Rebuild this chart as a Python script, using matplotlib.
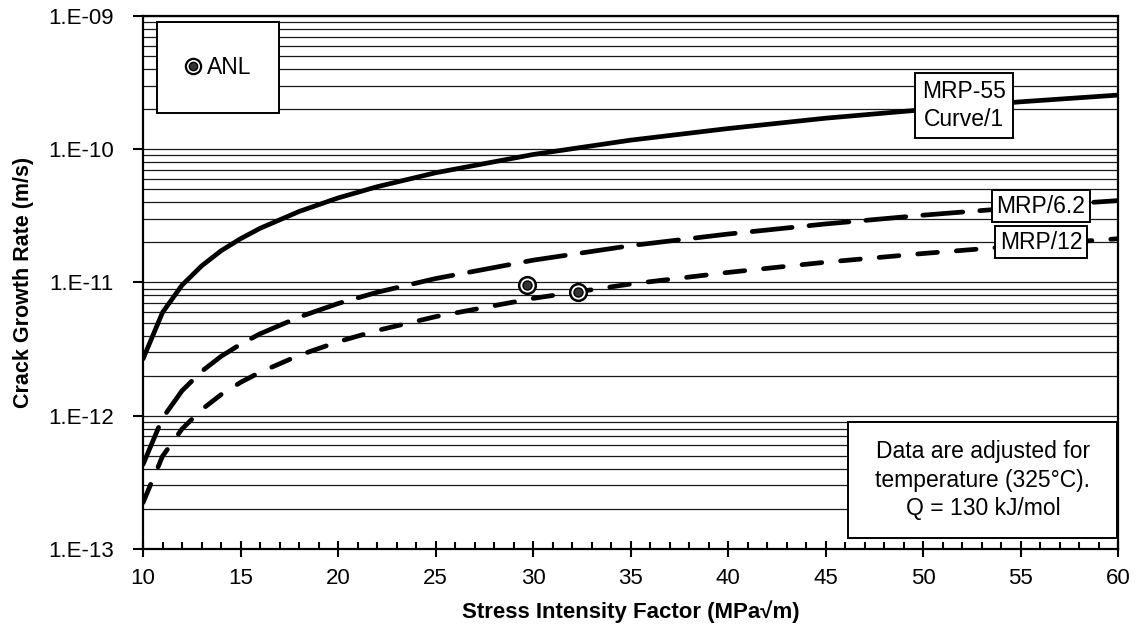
import matplotlib as mpl
mpl.use('Agg')
import matplotlib.pyplot as plt
from matplotlib.lines import Line2D
from matplotlib.patches import Rectangle
from matplotlib.legend_handler import HandlerTuple
from matplotlib.ticker import MultipleLocator, FuncFormatter, LogLocator
import numpy as np

plt.rcParams['font.family'] = ['Liberation Sans', 'DejaVu Sans']

# stress intensity factor (MPa sqrt m)
k_vals = [10, 11, 12, 13, 14, 15, 16, 18, 20, 22, 25, 30, 35, 40, 45, 50, 55, 60]
# crack growth rates (m/s)
mrp55 = [2.67e-12, 5.96e-12, 9.55e-12, 1.33e-11, 1.73e-11, 2.13e-11, 2.55e-11,
         3.41e-11, 4.31e-11, 5.23e-11, 6.66e-11, 9.13e-11, 1.17e-10, 1.43e-10,
         1.71e-10, 1.98e-10, 2.27e-10, 2.55e-10]
mrp_62 = [4.31e-13, 9.6e-13, 1.54e-12, 2.15e-12, 2.79e-12, 3.44e-12, 4.12e-12,
          5.50e-12, 6.95e-12, 8.44e-12, 1.07e-11, 1.47e-11, 1.89e-11, 2.31e-11,
          2.75e-11, 3.20e-11, 3.66e-11, 4.12e-11]
mrp_12 = [2.23e-13, 4.97e-13, 7.96e-13, 1.11e-12, 1.44e-12, 1.78e-12, 2.12e-12,
          2.84e-12, 3.59e-12, 4.36e-12, 5.54e-12, 7.60e-12, 9.74e-12, 1.19e-11,
          1.42e-11, 1.65e-11, 1.89e-11, 2.13e-11]

anl_k = [29.7, 32.3]
anl_rate = [9.6e-12, 8.5e-12]

fig = plt.figure(figsize=(11.37, 6.4), dpi=100)
ax = fig.add_axes([0.1258, 0.1422, 0.8575, 0.8328])

ax.set_yscale('log')
ax.set_xlim(10, 60)
ax.set_ylim(1e-13, 1e-9)

# horizontal grid at every minor/major decade step
ax.yaxis.set_major_locator(LogLocator(base=10, numticks=10))
ax.yaxis.set_minor_locator(LogLocator(base=10, subs=np.arange(2, 10), numticks=20))
ax.yaxis.set_major_formatter(FuncFormatter(lambda v, p: "1.E%03d" % int(round(np.log10(v)))))
ax.yaxis.set_minor_formatter(FuncFormatter(lambda v, p: ""))
ax.grid(True, which='both', axis='y', color='#1a1a1a', lw=0.9)
ax.set_axisbelow(True)

ax.xaxis.set_major_locator(MultipleLocator(5))
ax.xaxis.set_minor_locator(MultipleLocator(1))
ax.tick_params(axis='x', which='major', direction='inout', length=12, width=1.5,
               labelsize=16, pad=8)
ax.tick_params(axis='x', which='minor', direction='in', length=5, width=1.5)
ax.tick_params(axis='y', which='major', direction='out', length=7, width=1.5,
               labelsize=16, pad=14)
ax.tick_params(axis='y', which='minor', length=0)

for s in ax.spines.values():
    s.set_linewidth(1.6)

lw = 3.4
ax.plot(k_vals, mrp55, color='k', lw=lw, solid_capstyle='round', zorder=3)
ax.plot(k_vals, mrp_62, color='k', lw=lw, ls=(0, (8.5, 3.6)),
        dash_capstyle='round', zorder=3)
ax.plot(k_vals, mrp_12, color='k', lw=lw, ls=(0, (4.2, 4.0)),
        dash_capstyle='round', zorder=3)

ax.plot(anl_k, anl_rate, ls='none', marker='o', ms=12, mfc='white', mec='k',
        mew=1.8, zorder=4)
ax.plot(anl_k, anl_rate, ls='none', marker='o', ms=6.5, mfc='#333333', mec='k',
        mew=1, zorder=5)

box = dict(boxstyle='square,pad=0.3', fc='white', ec='k', lw=1.4)
ax.text(52.1, 2.14e-10, "MRP-55\nCurve/1", ha='center', va='center', fontsize=16.5,
        linespacing=1.3, bbox=box, zorder=6)
ax.text(56.05, 3.73e-11, "MRP/6.2", ha='center', va='center', fontsize=16.5,
        bbox=dict(boxstyle='square,pad=0.2', fc='white', ec='k', lw=1.4), zorder=6)
ax.text(56.05, 2.0e-11, "MRP/12", ha='center', va='center', fontsize=16.5,
        bbox=dict(boxstyle='square,pad=0.2', fc='white', ec='k', lw=1.4), zorder=6)

# legend frame
ax.add_patch(Rectangle((0.0144, 0.818), 0.125, 0.1707, transform=ax.transAxes,
                       fc='white', ec='k', lw=1.4, zorder=6))
outer = Line2D([], [], ls='none', marker='o', ms=11, mfc='white', mec='k', mew=1.6)
inner = Line2D([], [], ls='none', marker='o', ms=6, mfc='#333333', mec='k', mew=1)
ax.legend([(outer, inner)], ["ANL"], handler_map={tuple: HandlerTuple(ndivide=1)},
          loc='center', bbox_to_anchor=(0.0769, 0.9035), frameon=False,
          fontsize=16.5, handlelength=0.7, handletextpad=0.25).set_zorder(7)

# note box
ax.add_patch(Rectangle((0.723, 0.0206), 0.276, 0.2176, transform=ax.transAxes,
                       fc='white', ec='k', lw=1.4, zorder=6))
ax.text(0.8615, 0.129, "Data are adjusted for\ntemperature (325\u00b0C).\nQ = 130 kJ/mol",
        transform=ax.transAxes, ha='center', va='center', fontsize=16.5,
        linespacing=1.3, zorder=7)

ax.set_xlabel("Stress Intensity Factor (MPa\u221am)", fontsize=16, fontweight='bold',
              labelpad=8)
ax.set_ylabel("Crack Growth Rate (m/s)", fontsize=15.5, fontweight='bold', labelpad=10)

fig.savefig("out.png", dpi=100)
